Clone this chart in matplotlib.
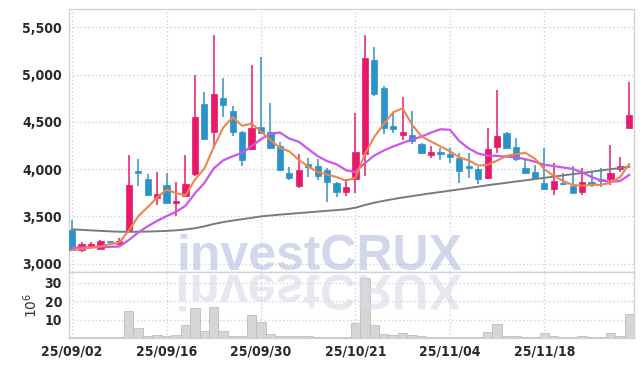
import matplotlib
matplotlib.use("Agg")
import matplotlib.pyplot as plt
import numpy as np
from matplotlib.textpath import TextPath
from matplotlib.patches import PathPatch
from matplotlib.font_manager import FontProperties, fontManager
from matplotlib.transforms import Affine2D

# daily candles, 25/09/02 .. 25/12/01 (trading days only)
opens = [3356, 3145, 3187, 3159, 3240, 3205, 3346, 3980, 3896, 3698,
         3832, 3645, 3719, 3949, 4689, 4396, 4749, 4615, 4393, 4213,
         4446, 4389, 4245, 3963, 3825, 4051, 4033, 3991, 3850, 3762,
         3892, 4157, 5155, 4855, 4456, 4361, 4361, 4266, 4150, 4178,
         4160, 4121, 4037, 4005, 3903, 4238, 4379, 4234, 4009, 3966,
         3853, 3793, 3857, 3822, 3755, 3864, 3896, 3899, 4005, 4432]
highs = [3462, 3233, 3233, 3250, 3243, 3268, 4150, 4104, 3949, 3973,
         3956, 3868, 4150, 4996, 4820, 5419, 4961, 4668, 4400, 5102,
         5183, 4696, 4291, 4026, 4157, 4118, 4111, 4009, 3868, 3892,
         4590, 5419, 5288, 4880, 4608, 4767, 4615, 4273, 4248, 4227,
         4220, 4167, 4167, 4026, 4432, 4837, 4389, 4326, 4104, 4044,
         4227, 4068, 3956, 4037, 4016, 3984, 4009, 4252, 4125, 4918]
lows = [3138, 3127, 3169, 3152, 3205, 3194, 3339, 3822, 3719, 3617,
        3638, 3504, 3709, 3928, 4315, 4220, 4555, 4354, 4037, 4202,
        4368, 4213, 3984, 3885, 3797, 3913, 3885, 3656, 3702, 3716,
        3744, 3928, 4777, 4368, 4386, 4308, 4266, 4160, 4114, 4097,
        4061, 3850, 3903, 3839, 3896, 4174, 4220, 4090, 3949, 3896,
        3779, 3726, 3832, 3744, 3726, 3815, 3815, 3832, 3973, 4432]
closes = [3145, 3205, 3208, 3240, 3226, 3243, 3832, 3963, 3726, 3737,
          3645, 3663, 3843, 4552, 4322, 4795, 4682, 4396, 4097, 4439,
          4379, 4224, 3991, 3906, 3991, 4026, 3931, 3868, 3762, 3808,
          4178, 5172, 4795, 4439, 4425, 4389, 4301, 4174, 4178, 4164,
          4128, 3980, 4016, 3896, 4213, 4347, 4227, 4111, 3963, 3906,
          3793, 3871, 3843, 3751, 3860, 3843, 3875, 3956, 4033, 4569]
volume = [0.3, 0.3, 0.3, 0.3, 0.3, 0.3, 14.5, 5.5, 1.2, 1.7,
          1.0, 1.7, 6.9, 16.3, 3.9, 16.7, 3.9, 1.0, 1.0, 12.3,
          8.7, 2.1, 1.0, 1.0, 1.0, 1.0, 0.3, 0.3, 0.3, 0.3,
          8.2, 32.5, 6.9, 2.3, 1.5, 2.8, 1.7, 1.0, 0.3, 0.3,
          0.3, 0.3, 0.3, 0.3, 3.3, 7.7, 1.0, 1.0, 0.3, 0.3,
          2.8, 1.0, 0.3, 0.3, 1.0, 0.3, 0.3, 2.8, 1.0, 13.1]
ma5 = [3145, 3155, 3170, 3185, 3205, 3224, 3350, 3501, 3598, 3700,
       3781, 3747, 3723, 3888, 4005, 4235, 4439, 4549, 4458, 4482,
       4399, 4307, 4226, 4188, 4098, 4028, 3969, 3944, 3916, 3879,
       3909, 4158, 4343, 4478, 4602, 4644, 4470, 4346, 4293, 4241,
       4189, 4125, 4093, 4037, 4047, 4090, 4140, 4159, 4172, 4111,
       4000, 3929, 3875, 3833, 3824, 3834, 3834, 3857, 3913, 4055]
ma10 = [3169, 3172, 3173, 3175, 3178, 3182, 3250, 3330, 3395, 3453,
        3503, 3548, 3612, 3743, 3853, 4008, 4093, 4136, 4173, 4243,
        4317, 4373, 4388, 4323, 4290, 4213, 4138, 4085, 4052, 3989,
        3969, 4063, 4144, 4197, 4240, 4277, 4314, 4344, 4386, 4422,
        4417, 4297, 4219, 4165, 4144, 4140, 4132, 4126, 4105, 4079,
        4045, 4034, 4017, 4003, 3967, 3917, 3882, 3866, 3873, 3939]
ma_long = [3363, 3358, 3352, 3347, 3342, 3338, 3337, 3338, 3340, 3343,
           3347, 3353, 3362, 3375, 3395, 3420, 3440, 3456, 3470, 3485,
           3500, 3510, 3519, 3527, 3535, 3543, 3551, 3559, 3567, 3575,
           3592, 3620, 3645, 3665, 3683, 3700, 3715, 3730, 3745, 3758,
           3772, 3786, 3800, 3815, 3830, 3843, 3856, 3869, 3882, 3895,
           3908, 3921, 3934, 3947, 3960, 3973, 3986, 3999, 4012, 4025]
tick_pos = [0, 10, 20, 30, 40, 50]
tick_labels = ["25/09/02", "25/09/16", "25/09/30", "25/10/21", "25/11/04", "25/11/18"]

UP = "#e8196a"
DOWN = "#2b93c7"
GRID = "#c9c9dd"
SPINE = "#d2d2d2"

# a condensed face if one is installed, else Roboto
names = {f.name for f in fontManager.ttflist}
cond = [f for f in fontManager.ttflist
        if f.name in ("DejaVu Sans", "Liberation Sans Narrow")
        and str(f.stretch) in ("condensed", "semi-condensed", "587", "500")]
if "Liberation Sans Narrow" in names:
    LABEL = dict(family="Liberation Sans Narrow", fontweight="bold", fontsize=11)
elif cond:
    LABEL = dict(family="DejaVu Sans", fontstretch="condensed", fontweight="bold", fontsize=10)
else:
    LABEL = dict(family="Roboto", fontweight="medium", fontsize=10)

fig = plt.figure(figsize=(6.42, 3.66), dpi=100)
W, H = 642, 366
ax = fig.add_axes([69 / W, 1 - 272 / H, (634 - 69) / W, (272 - 9) / H])
axv = fig.add_axes([69 / W, 1 - 338 / H, (634 - 69) / W, (338 - 272) / H], sharex=ax)

x = np.arange(len(closes))
o = np.array(opens)
c = np.array(closes)
colors = [UP if cc >= oo else DOWN for oo, cc in zip(o, c)]

# candles
ax.vlines(x, lows, highs, colors=colors, linewidth=1.1, zorder=3)
ax.bar(x, np.abs(c - o), bottom=np.minimum(o, c), width=0.66,
       color=colors, edgecolor=colors, linewidth=0.5, zorder=4)

# moving averages
ax.plot(x, ma_long, color="#7a7a7a", linewidth=1.4, zorder=5)
ax.plot(x, ma10, color="#cc55ee", linewidth=1.6, zorder=5)
ax.plot(x, ma5, color="#f0844a", linewidth=1.5, zorder=6)

ax.set_ylim(2912, 5694)
ax.set_yticks([3000, 3500, 4000, 4500, 5000, 5500])
ax.set_yticklabels(["3,000", "3,500", "4,000", "4,500", "5,000", "5,500"])
ax.set_xlim(-0.33, 59.5)

# volume
axv.bar(x, volume, width=1.0, color="#d6d6d6", edgecolor="#bdbdbd",
        linewidth=0.6, zorder=3)
axv.set_ylim(0, 35.8)
axv.set_yticks([10, 20, 30])
axv.set_xticks(tick_pos)
axv.set_xticklabels(tick_labels)
axv.text(-0.068, 0.5, "$10^6$", transform=axv.transAxes, rotation=90,
         ha="center", va="center", fontsize=10, color="#333333")

for a in (ax, axv):
    a.grid(True, color=GRID, linestyle=(0, (1, 2)), linewidth=0.9, zorder=0)
    a.set_axisbelow(True)
    for s in a.spines.values():
        s.set_color(SPINE)
        s.set_linewidth(1.0)
    a.tick_params(length=0, pad=5, labelcolor="#2a2a2a")
    for lab in a.get_yticklabels() + a.get_xticklabels():
        lab.update(LABEL)
plt.setp(ax.get_xticklabels(), visible=False)

# watermark and its reflection
fig.text(320 / W, 1 - 270 / H, "investCRUX", ha="center", va="baseline",
         fontsize=36, fontweight="bold", family="Liberation Sans",
         color="#b4bde0", alpha=0.6, zorder=10)
fp = FontProperties(family="Liberation Sans", weight="bold")
tp = TextPath((0, 0), "investCRUX", size=36, prop=fp)
bb = tp.get_extents()
tr = (Affine2D().translate(-bb.width / 2 - bb.x0, 0).scale(1 / 72, -1 / 72)
      .translate(320 / 100, (H - 275) / 100) + fig.dpi_scale_trans)
fig.patches.append(PathPatch(tp, transform=tr, facecolor="#d8d8e6",
                             edgecolor="none", alpha=0.6, zorder=10,
                             figure=fig))

fig.savefig("out.png", dpi=100)
